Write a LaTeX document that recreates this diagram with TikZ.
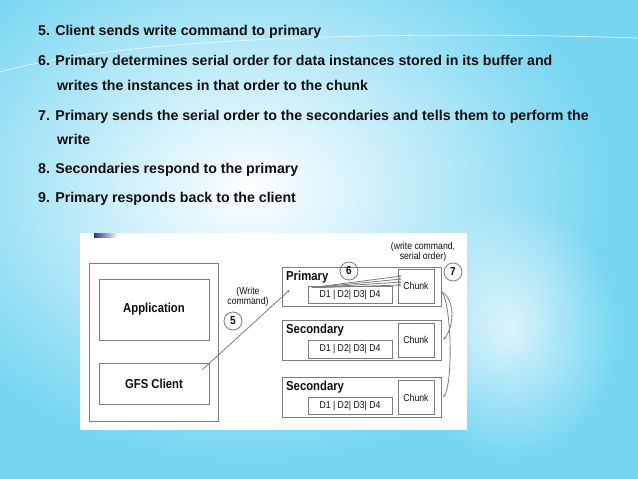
\documentclass[tikz,border=0pt]{standalone}
\usepackage{fontspec}
\setmainfont{Liberation Sans}
\newfontfamily\figfont[FakeStretch=0.87]{Liberation Sans}
\usetikzlibrary{arrows.meta,fadings}
\definecolor{bgblue}{RGB}{118,214,242}
\definecolor{boxgray}{RGB}{125,125,125}
\definecolor{inkgray}{RGB}{15,15,15}
\definecolor{marknavy}{RGB}{50,50,150}
\tikzfading[name=glow, inner color=transparent!0, outer color=transparent!100]
\begin{document}
\begin{tikzpicture}[x=1pt,y=-1pt,
  edgeline/.style={draw=boxgray, line width=0.8pt},
  box/.style={edgeline, rectangle, inner sep=0pt},
  slide/.style={anchor=base west, inner sep=0pt, text=inkgray, font=\fontsize{14.2}{17}\selectfont\bfseries},
  tag/.style={inner sep=0pt, text=inkgray, font=\figfont\fontsize{13}{15}\selectfont\bfseries},
  note/.style={inner sep=0pt, text=inkgray, align=center, font=\figfont\fontsize{10}{10.5}\selectfont},
  numc/.style={edgeline, circle, minimum size=18pt, inner sep=0pt, text=inkgray, font=\figfont\fontsize{11.5}{11.5}\selectfont\bfseries},
  >={Stealth[length=3pt,width=2.4pt]}]
\useasboundingbox (0,0) rectangle (638,479);
% background
\fill[bgblue] (0,0) rectangle (638,479);
\fill[white, path fading=glow] (250,190) ellipse (360 and 270);
\fill[white, path fading=glow, opacity=0.7] (510,330) ellipse (110 and 130);
\draw[white, line width=0.8pt, opacity=0.7] (0,72) .. controls (120,38) and (380,30) .. (638,38);
% slide text
\node[slide] (t5) at (38,35) {5. Client sends write command to primary};
\node[slide] (t6) at (38,65) {6. Primary determines serial order for data instances stored in its buffer and};
\node[slide] (t6b) at (57,90) {writes the instances in that order to the chunk};
\node[slide] (t7) at (38,120) {7. Primary sends the serial order to the secondaries and tells them to perform the};
\node[slide] (t7b) at (57,144) {write};
\node[slide] (t8) at (38,173) {8. Secondaries respond to the primary};
\node[slide] (t9) at (38,202) {9. Primary responds back to the client};
% diagram panel
\fill[white] (80,233) rectangle (467,430);
\shade[left color=marknavy, right color=white] (94,233) rectangle (118,237);
% client machine
\node[box, minimum width=129pt, minimum height=158pt] (mach) at (153.5,342) {};
\node[box, tag, minimum width=110pt, minimum height=61pt] (app) at (154,309.5) {Application};
\node[box, tag, minimum width=110pt, minimum height=41pt] (gfs) at (154,383.5) {GFS Client};
% primary
\node[box, minimum width=159pt, minimum height=39pt] (pri) at (361.5,286.5) {};
\node[box, note, minimum width=36pt, minimum height=34pt] (prich) at (416,286) {Chunk};
\node[box, note, minimum width=84pt, minimum height=17pt] (pridat) at (350,294.5) {D1 | D2| D3| D4};
\node[tag, anchor=base west] (prilab) at (286,280) {Primary};
% secondaries
\node[box, minimum width=159pt, minimum height=40pt] (seca) at (361.5,340) {};
\node[box, note, minimum width=36pt, minimum height=34pt] (secach) at (416,340) {Chunk};
\node[box, note, minimum width=84pt, minimum height=18pt] (secadat) at (350,349) {D1 | D2| D3| D4};
\node[tag, anchor=base west] (secalab) at (286,333) {Secondary};
\node[box, minimum width=159pt, minimum height=40pt] (secb) at (361.5,397) {};
\node[box, note, minimum width=36pt, minimum height=34pt] (secbch) at (416,397.5) {Chunk};
\node[box, note, minimum width=84pt, minimum height=17pt] (secbdat) at (350,405.5) {D1 | D2| D3| D4};
\node[tag, anchor=base west] (secblab) at (286,390) {Secondary};
% step marks and notes
\node[numc] (c5) at (233,321) {5};
\node[numc] (c6) at (349,271) {6};
\node[numc] (c7) at (453,272) {7};
\node[note] (wcmd) at (248,297) {(Write\\command)};
\node[note] (wcso) at (423,252) {(write command,\\serial order)};
% connectors
\draw[edgeline, ->] ([shift={(-7,7)}]gfs.north east) -- ([shift={(8,3.5)}]pri.west);
\draw[edgeline, ->] ([shift={(4,2)}]pridat.north west) -- ([shift={(4,-10)}]prich.west);
\draw[edgeline, ->] ([shift={(6,2)}]pridat.north west) -- ([shift={(4,-7)}]prich.west);
\draw[edgeline, ->] ([shift={(8,2)}]pridat.north west) -- ([shift={(4,-4)}]prich.west);
\draw[edgeline, ->] ([shift={(10,2)}]pridat.north west) -- ([shift={(4,-1)}]prich.west);
\draw[edgeline, ->] ([yshift=-5pt]pri.east) .. controls +(14,8) and +(11,-14) .. ([xshift=2pt]seca.east);
\draw[edgeline, ->] ([yshift=-5pt]pri.east) .. controls +(10,10) and +(10,-15) .. ([xshift=2pt]secb.east);
\end{tikzpicture}
\end{document}
